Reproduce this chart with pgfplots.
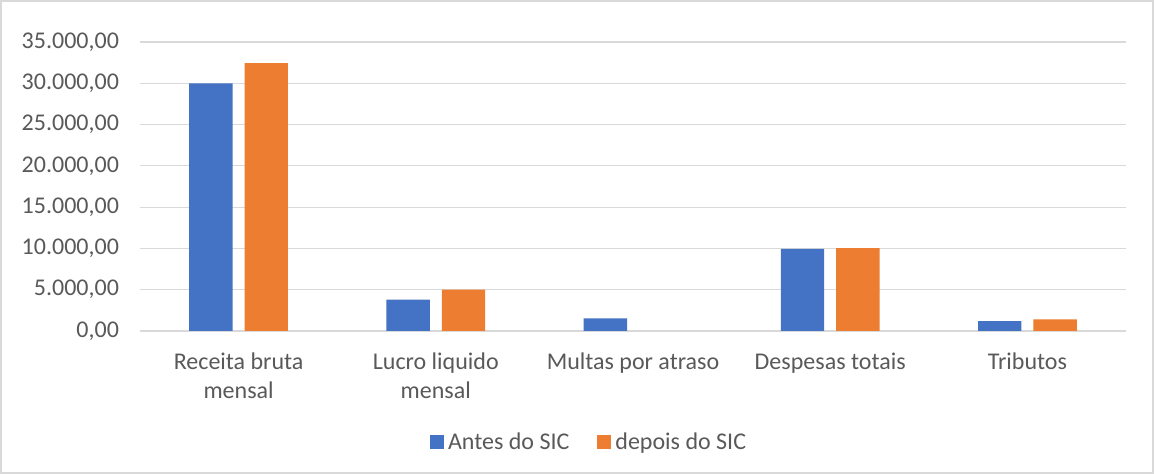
\documentclass[border=0pt]{standalone}
\usepackage{pgfplots}
\pgfplotsset{compat=1.18}
\usepackage{fontspec}
\setmainfont{Carlito}
\definecolor{cblue}{HTML}{4472C4}
\definecolor{corange}{HTML}{ED7D31}
\definecolor{ctext}{HTML}{595959}
\definecolor{cgrid}{HTML}{D9D9D9}
\begin{document}
\begin{tikzpicture}
\useasboundingbox (0,0) rectangle (577pt,237pt);
\draw[cgrid,line width=0.6pt] (0.5pt,0.5pt) rectangle (576.5pt,236.5pt);
\begin{axis}[
  at={(70pt,71.5pt)}, anchor=south west,
  scale only axis, width=493pt, height=144.5pt,
  ybar=6pt, bar width=0.22,
  xmin=-0.5, xmax=4.5, ymin=0, ymax=35000,
  ytick={0,5000,...,35000},
  xtick={0,1,2,3,4},
  xticklabels={{Receita bruta\\mensal},{Lucro liquido\\mensal},{Multas por atraso},{Despesas totais},{Tributos}},
  xticklabel style={align=center, font=\fontsize{12}{14.5}\selectfont, text=ctext, yshift=-7.5pt},
  yticklabel style={font=\fontsize{12}{13}\selectfont, text=ctext, xshift=-7pt},
  /pgf/number format/.cd, fixed, fixed zerofill, precision=2, use comma, 1000 sep={.}, assume math mode=true,
  /pgfplots/.cd,
  scaled y ticks=false,
  axis line style={draw=none},
  major tick length=0pt,
  ymajorgrids, grid style={cgrid, line width=0.6pt},
  legend style={at={(0.4565,-0.385)}, anchor=center, draw=none, fill=none,
    legend columns=2, font=\fontsize{12}{13}\selectfont, text=ctext,
    /tikz/every even column/.append style={column sep=12pt}},
  legend image code/.code={\fill[#1] (0pt,-3.5pt) rectangle (7pt,3.5pt);},
]
\addplot[fill=cblue, draw=none] coordinates {(0,30000) (1,3800) (2,1530) (3,9950) (4,1200)};
\addplot[fill=corange, draw=none] coordinates {(0,32450) (1,5000) (3,10050) (4,1400)};
\legend{Antes do SIC, depois do SIC}
\end{axis}
\end{tikzpicture}
\end{document}
